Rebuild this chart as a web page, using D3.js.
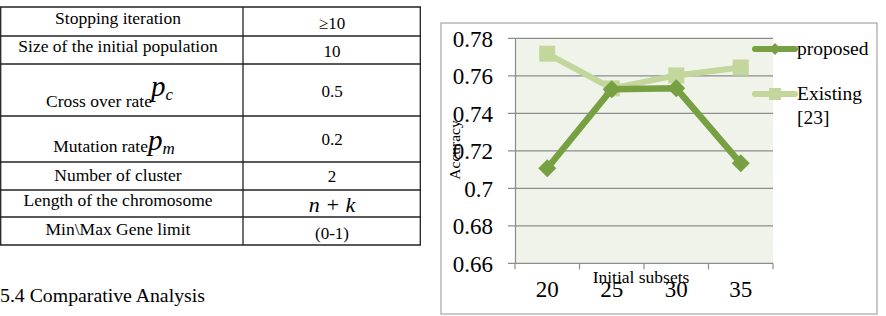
<html>
<meta charset="utf-8" />
<head>
<style>
body { margin: 0; background: #fff; }
svg text { font-family: "Liberation Serif", "Times New Roman", serif; fill: #000; }
</style>
<script src="https://d3js.org/d3.v7.min.js" charset="utf-8"></script>
</head>
<body>
<svg class="chart" width="886" height="316"></svg>

<script>
/********
 * Data *
 ********/
var subsets = ["20", "25", "30", "35"];
var proposed = [0.7107, 0.7528, 0.7533, 0.7133];
var existing = [0.7718, 0.7533, 0.7602, 0.7644];
var yTicks = [0.66, 0.68, 0.7, 0.72, 0.74, 0.76, 0.78];
var yTickLabels = ["0.66", "0.68", "0.7", "0.72", "0.74", "0.76", "0.78"];

var paramNames = ["Stopping iteration", "Size of the initial population", "Cross over rate",
                  "Mutation rate", "Number of cluster", "Length of the chromosome", "Min\\Max Gene limit"];
var paramValues = ["\u226510", "10", "0.5", "0.2", "2", "n + k", "(0-1)"];

var svg = d3.select(".chart");

/*********
 * Table *
 *********/
var rowEdges = [7, 36, 64, 116, 162, 190, 217, 245];
var tbl = svg.append("g");
rowEdges.forEach(function(y) {
  tbl.append("line").attr("x1", 0).attr("x2", 421).attr("y1", y).attr("y2", y)
      .attr("stroke", "#222").attr("stroke-width", 1.3);
});
[0.7, 243, 420.3].forEach(function(x) {
  tbl.append("line").attr("x1", x).attr("x2", x).attr("y1", 7).attr("y2", 245)
      .attr("stroke", "#222").attr("stroke-width", 1.3);
});

var nameBase = [24, 52, 107, 152, 181, 206, 235];
var valBase = [28.5, 56.5, 96.5, 145, 182, 211.5, 239];
paramNames.forEach(function(n, i) {
  var t = tbl.append("text")
      .attr("y", nameBase[i])
      .style("font-size", "17.5px");
  if (i == 2) t.attr("x", 152).style("text-anchor", "end");
  else if (i == 3) t.attr("x", 148).style("text-anchor", "end");
  else t.attr("x", 118).style("text-anchor", "middle");
  t.text(n);
});
// subscripted symbols for the two rates
var sym = tbl.append("text").attr("x", 151).attr("y", 96)
    .style("font-size", "29px").style("font-style", "italic");
sym.append("tspan").text("p");
sym.append("tspan").attr("dy", 4).style("font-size", "17px").text("c");
var sym2 = tbl.append("text").attr("x", 148).attr("y", 150)
    .style("font-size", "29px").style("font-style", "italic");
sym2.append("tspan").text("p");
sym2.append("tspan").attr("dy", 4).style("font-size", "17px").text("m");

paramValues.forEach(function(v, i) {
  tbl.append("text")
      .attr("x", 332).attr("y", valBase[i])
      .style("font-size", i == 5 ? "22px" : "17px")
      .style("font-style", i == 5 ? "italic" : "normal")
      .style("text-anchor", "middle")
      .text(v);
});

svg.append("text").attr("x", 0).attr("y", 302)
    .style("font-size", "19.8px").text("5.4 Comparative Analysis");

/*********
 * Chart *
 *********/
svg.append("rect")
    .attr("x", 441).attr("y", 23).attr("width", 436).attr("height", 291)
    .attr("fill", "#fff").attr("stroke", "#a6a6a6").attr("stroke-width", 1.2);

var x = d3.scaleBand().domain(subsets).range([515, 773]);
var y = d3.scaleLinear().domain([0.66, 0.78]).range([263.3, 38.3]);

svg.append("rect")
    .attr("x", 515).attr("y", y(0.78)).attr("width", 258).attr("height", y(0.66) - y(0.78))
    .attr("fill", "#eff3ea");

// grid
svg.append("g").selectAll("line").data(yTicks.slice(1)).enter().append("line")
    .attr("x1", 508).attr("x2", 773)
    .attr("y1", function(d) { return y(d); }).attr("y2", function(d) { return y(d); })
    .attr("stroke", "#8c8c8c").attr("stroke-width", 1.2);

var yAxis = d3.axisLeft(y).tickValues(yTicks).tickSize(0)
    .tickFormat(function(d, i) { return yTickLabels[i]; });
var yg = svg.append("g").attr("transform", "translate(515,0)").call(yAxis);
yg.select(".domain").attr("stroke", "#8c8c8c").attr("stroke-width", 1.2);
yg.selectAll("text").attr("x", -22).attr("dy", "0.34em")
    .style("font-size", "23px");

var xAxis = d3.axisBottom(x).tickSize(0).tickSizeOuter(0);
var xg = svg.append("g").attr("transform", "translate(0," + y(0.66) + ")").call(xAxis);
xg.select(".domain").attr("d", "M508,0H773").attr("stroke", "#8c8c8c").attr("stroke-width", 1.2);
xg.selectAll("text").attr("y", 34).attr("dy", 0)
    .style("font-size", "23px");
var edges = subsets.map(function(s) { return x(s); }).concat([773]);
xg.selectAll(".edge").data(edges).enter().append("line")
    .attr("x1", function(d) { return d; }).attr("x2", function(d) { return d; })
    .attr("y1", 0).attr("y2", 6).attr("stroke", "#8c8c8c").attr("stroke-width", 1.2);

svg.append("text").attr("x", 641).attr("y", 283)
    .style("font-size", "17.5px").style("text-anchor", "middle").text("Initial subsets");
svg.append("text").attr("transform", "translate(460,150) rotate(-90)")
    .style("font-size", "15.5px").style("text-anchor", "middle").text("Accuracy");

var cx = function(d, i) { return x(subsets[i]) + x.bandwidth() / 2; };
var line = d3.line().x(function(d, i) { return cx(d, i); }).y(function(d) { return y(d); });

var lightGreen = "#c3d69b", darkGreen = "#77a043";

svg.append("path").datum(existing).attr("d", line)
    .attr("fill", "none").attr("stroke", lightGreen).attr("stroke-width", 6);
svg.append("g").selectAll("rect").data(existing).enter().append("rect")
    .attr("x", function(d, i) { return cx(d, i) - 8; })
    .attr("y", function(d) { return y(d) - 8; })
    .attr("width", 16).attr("height", 16).attr("fill", lightGreen);

svg.append("path").datum(proposed).attr("d", line)
    .attr("fill", "none").attr("stroke", darkGreen).attr("stroke-width", 6.5);
var diamondPath = "M0,-9L9,0L0,9L-9,0Z";
svg.append("g").selectAll("path").data(proposed).enter().append("path")
    .attr("d", diamondPath)
    .attr("transform", function(d, i) { return "translate(" + cx(d, i) + "," + y(d) + ")"; })
    .attr("fill", darkGreen);

/**********
 * Legend *
 **********/
var legend = svg.append("g");
legend.append("line").attr("x1", 755).attr("x2", 795).attr("y1", 49).attr("y2", 49)
    .attr("stroke", darkGreen).attr("stroke-width", 6).attr("stroke-linecap", "round");
legend.append("path").attr("d", "M0,-6L6,0L0,6L-6,0Z")
    .attr("transform", "translate(775,49)").attr("fill", darkGreen);
legend.append("text").attr("x", 797).attr("y", 55).style("font-size", "19.5px").text("proposed");

legend.append("line").attr("x1", 755).attr("x2", 795).attr("y1", 94).attr("y2", 94)
    .attr("stroke", lightGreen).attr("stroke-width", 6).attr("stroke-linecap", "round");
legend.append("rect").attr("x", 769).attr("y", 88).attr("width", 12).attr("height", 12)
    .attr("fill", lightGreen);
legend.append("text").attr("x", 797).attr("y", 100).style("font-size", "19.5px").text("Existing");
legend.append("text").attr("x", 797).attr("y", 124).style("font-size", "19.5px").text("[23]");
</script>
</body>
</html>
